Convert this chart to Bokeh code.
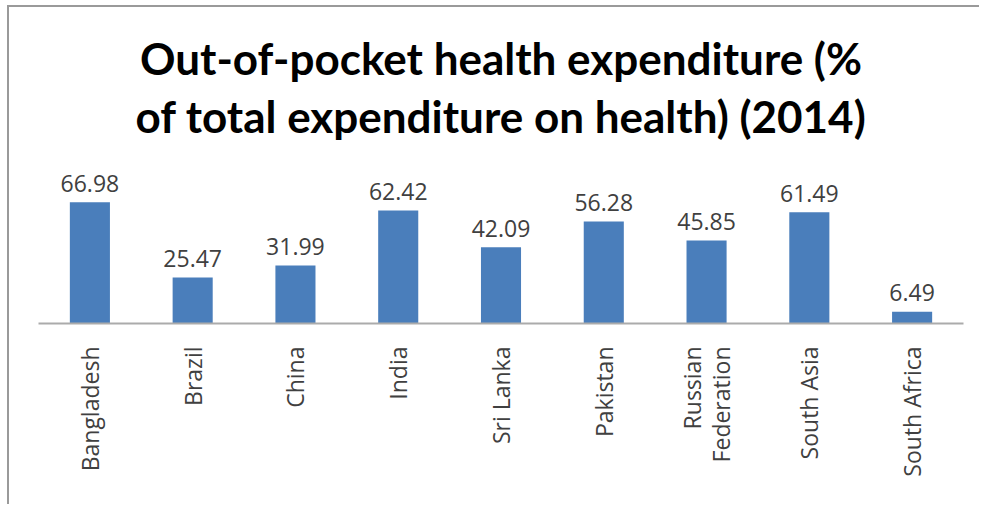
from bokeh.plotting import figure
from bokeh.models import ColumnDataSource, Title, Range1d
from bokeh.core.properties import value
from bokeh.embed import file_html
from bokeh.resources import INLINE
import math

categories = ["Bangladesh", "Brazil", "China", "India", "Sri Lanka", "Pakistan",
              "Russian\nFederation", "South Asia", "South Africa"]
values = [66.98, 25.47, 31.99, 62.42, 42.09, 56.28, 45.85, 61.49, 6.49]
value_labels = ["66.98", "25.47", "31.99", "62.42", "42.09", "56.28", "45.85", "61.49", "6.49"]
title_line1 = "Out-of-pocket health expenditure (%"
title_line2 = "of total expenditure on health) (2014)"

src = ColumnDataSource(dict(cat=categories, val=values, lab=value_labels))

p = figure(x_range=categories, y_range=Range1d(0, 99.4),
           width=972, height=499, output_backend="svg", toolbar_location=None,
           min_border_left=29, min_border_right=18, min_border_bottom=183, min_border_top=136)

p.add_layout(Title(text=title_line2, text_font="Lato", text_font_style="bold",
                   text_font_size="44px", text_color="black", align="center",
                   standoff=4), "above")
p.add_layout(Title(text=title_line1, text_font="Lato", text_font_style="bold",
                   text_font_size="44px", text_color="black", align="center",
                   standoff=3), "above")

p.vbar(x="cat", top="val", width=0.39, source=src, color="#4a7ebb", line_color=None)
p.text(x="cat", y="val", text="lab", source=src, text_align="center",
       text_baseline="alphabetic", y_offset=-19, text_font_size="23px",
       text_color="#404040", text_font=value("Open Sans"))

p.yaxis.visible = False
p.xgrid.grid_line_color = None
p.ygrid.grid_line_color = None
p.outline_line_color = None
p.xaxis.axis_line_color = "#ababab"
p.xaxis.axis_line_width = 2
p.xaxis.major_tick_line_color = None
p.xaxis.minor_tick_line_color = None
p.xaxis.major_tick_out = 0
p.xaxis.major_tick_in = 0
p.xaxis.major_label_orientation = math.pi / 2
p.xaxis.major_label_text_font = "Open Sans"
p.xaxis.major_label_text_font_size = "23px"
p.xaxis.major_label_text_color = "#404040"
p.xaxis.major_label_text_line_height = 0.93
p.xaxis.major_label_standoff = 23
p.styles = {"margin-left": "7px", "margin-top": "5px",
            "border-top": "2px solid #9a9a9a", "border-left": "2px solid #9a9a9a"}

open("out.html", "w").write(file_html(p, INLINE))
